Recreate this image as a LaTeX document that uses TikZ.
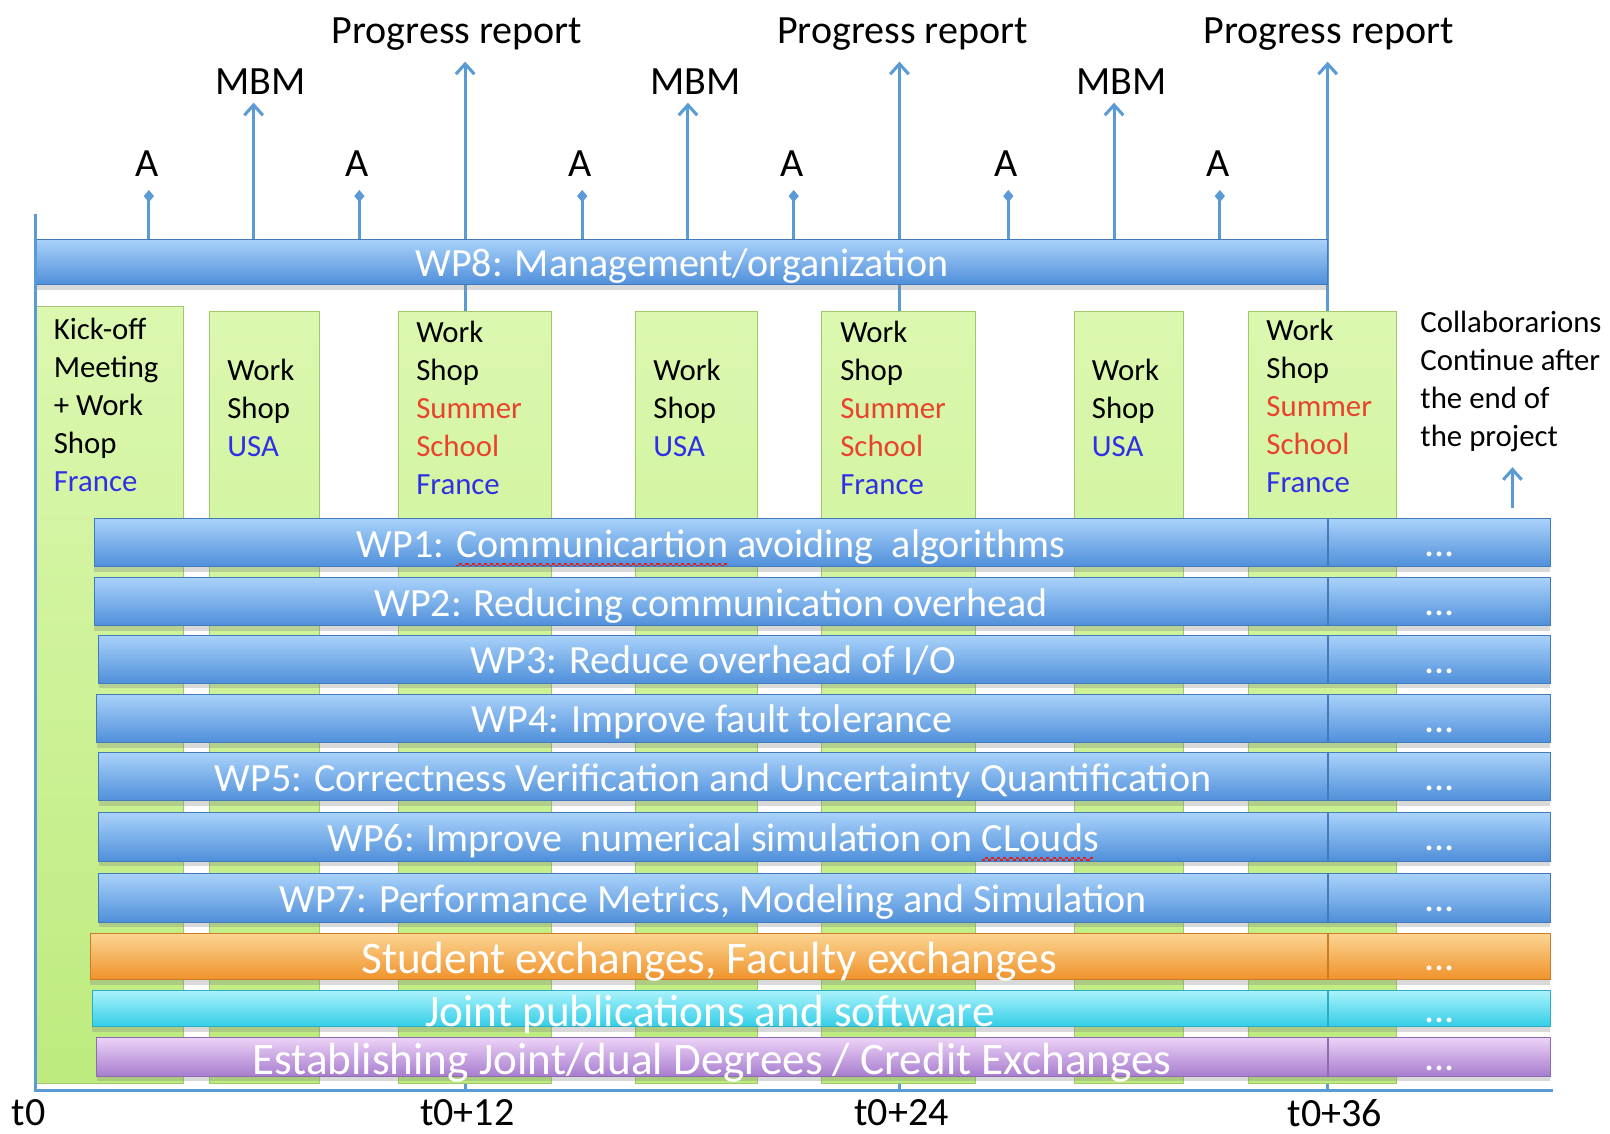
\documentclass[tikz,border=0pt]{standalone}
\usepackage{fontspec}
\setmainfont{Carlito}
\usetikzlibrary{positioning,arrows.meta,shadows}

\definecolor{tlblue}{HTML}{5B9BD5}
\definecolor{bluetop}{HTML}{A9D2FA}
\definecolor{bluebot}{HTML}{4F8FDA}
\definecolor{orangetop}{HTML}{FBD593}
\definecolor{orangebot}{HTML}{F0922A}
\definecolor{cyantop}{HTML}{A8F2FB}
\definecolor{cyanbot}{HTML}{33CDE6}
\definecolor{purpletop}{HTML}{EED3F8}
\definecolor{purplebot}{HTML}{A77DCE}
\definecolor{greentop}{HTML}{DCF8B0}
\definecolor{greenbot}{HTML}{BDEB7E}
\definecolor{txtred}{HTML}{E8432D}
\definecolor{txtblue}{HTML}{2F2FE6}
\definecolor{errred}{HTML}{E0201A}

% red wavy underline of the spell checker
\newcommand{\spellerr}[1]{\setbox0\hbox{#1}\rlap{\textcolor{errred}{\leaders\hbox to 3pt{\rule[-4.6pt]{1.5pt}{0.8pt}\rule[-3.8pt]{1.5pt}{0.8pt}}\hskip\wd0}}#1}

\tikzset{
  bar/.style={draw=#1bot!85!black, line width=0.4pt, top color=#1top, bottom color=#1bot,
    text=white, inner sep=0pt, minimum height=23.5pt, text height=14pt, text depth=-2pt,
    font=\fontsize{19.5}{23}\selectfont,
    drop shadow={opacity=0.3, shadow xshift=0pt, shadow yshift=-2.5pt}},
  bar/.default=blue,
  more/.style={bar=#1, minimum width=108pt, text height=13.5pt, text depth=0pt},
  more/.default=blue,
  bigbar/.style={bar=#1, text height=17pt, text depth=-3pt, font=\fontsize{22}{26}\selectfont},
  box/.style={draw=greenbot!85!black, line width=0.4pt, top color=greentop, bottom color=greenbot,
    anchor=north west, inner sep=0pt},
  boxtxt/.style={anchor=north west, inner sep=0pt, align=left, font=\fontsize{15}{18.5}\selectfont},
  toplbl/.style={inner sep=0pt, font=\fontsize{19.5}{23}\selectfont},
  tlline/.style={draw=tlblue, line width=1.5pt},
  atick/.style={tlline, -{Diamond[length=6pt,width=5pt]}},
  longarrow/.style={tlline, -{Straight Barb[length=5pt,width=9pt]}}
}

\begin{document}
\begin{tikzpicture}[x=0.5pt, y=-0.5pt]
\useasboundingbox (0,0) rectangle (1568,1104);

\coordinate (orig) at (35,1062);
\coordinate (axtop) at (35,208);
\coordinate (axend) at (1512,1062);

% progress report lines (every 12 months)
\foreach \x/\n in {453/1,876/2,1293/3} {
  \coordinate (prt\n) at (\x,60);
  \draw[longarrow] (prt\n |- orig) -- (prt\n);
}
\node[toplbl, anchor=south] (pr1) at (445,49) {Progress report};
\node[toplbl, anchor=south] (pr2) at (879,49) {Progress report};
\node[toplbl, anchor=south] (pr3) at (1294,49) {Progress report};

% meetings
\node[box, minimum width=71.5pt, minimum height=378.5pt] (ws0) at (35,298) {};
\node[box, minimum width=53.5pt, minimum height=376pt] (ws1) at (204,303) {};
\node[box, minimum width=74.5pt, minimum height=376pt] (ws2) at (388,303) {};
\node[box, minimum width=59.5pt, minimum height=376pt] (ws3) at (618,303) {};
\node[box, minimum width=75pt, minimum height=376pt] (ws4) at (800,303) {};
\node[box, minimum width=53pt, minimum height=376pt] (ws5) at (1046,303) {};
\node[box, minimum width=72.5pt, minimum height=376pt] (ws6) at (1215,303) {};

\node[boxtxt] (ws0t) at (52,309) {Kick-off\\Meeting\\+ Work\\Shop\\\textcolor{txtblue}{France}};
\node[boxtxt] (ws1t) at (221,349) {Work\\Shop\\\textcolor{txtblue}{USA}};
\node[boxtxt] (ws2t) at (405,312) {Work\\Shop\\\textcolor{txtred}{Summer}\\\textcolor{txtred}{School}\\\textcolor{txtblue}{France}};
\node[boxtxt] (ws3t) at (636,349) {Work\\Shop\\\textcolor{txtblue}{USA}};
\node[boxtxt] (ws4t) at (818,312) {Work\\Shop\\\textcolor{txtred}{Summer}\\\textcolor{txtred}{School}\\\textcolor{txtblue}{France}};
\node[boxtxt] (ws5t) at (1063,349) {Work\\Shop\\\textcolor{txtblue}{USA}};
\node[boxtxt] (ws6t) at (1233,310) {Work\\Shop\\\textcolor{txtred}{Summer}\\\textcolor{txtred}{School}\\\textcolor{txtblue}{France}};
\node[boxtxt] (collab) at (1383,303) {Collaborarions\\Continue after\\the end of\\the project};

% management bar and its milestones
\node[bar, minimum width=629pt, minimum height=22pt] (wp8) at (664,255) {WP8: Management/organization};
\foreach \x/\n in {145/1,350/2,567/3,773/4,982/5,1188/6} {
  \coordinate (at\n) at (\x,185);
  \draw[atick] (at\n |- wp8.north) -- (at\n);
  \node[toplbl, above=6.5pt of at\n, xshift=-1pt] (a\n) {A};
}
\foreach \x/\n in {247/1,670/2,1085/3} {
  \coordinate (mt\n) at (\x,100);
  \draw[longarrow] (mt\n |- wp8.north) -- (mt\n);
  \node[toplbl, above=4pt of mt\n, xshift=3.5pt] (mbm\n) {MBM};
}

% work packages
\foreach \n/\yc/\xs/\txt in {
  wp1/528.5/92/{WP1: \spellerr{Communicartion} avoiding\ \ algorithms},
  wp2/586/92/{WP2: Reducing communication overhead},
  wp3/642/96/{WP3: Reduce overhead of I/O},
  wp4/699.5/94/{WP4: Improve fault tolerance},
  wp5/756.5/96/{WP5: Correctness Verification and Uncertainty Quantification},
  wp6/815/96/{WP6: Improve\ \ numerical simulation on \spellerr{CLouds}},
  wp7/874.5/96/{WP7: Performance Metrics, Modeling and Simulation}} {
  \node[bar, minimum width={(1293-\xs)*0.5pt}] (\n) at ({(\xs+1293)/2},\yc) {\txt};
  \node[more, right=0pt of \n] (\n-more) {...};
}
\node[bigbar=orange, minimum width=602.5pt, minimum height=22.5pt] (stud) at (690.5,931.5) {Student exchanges, Faculty exchanges};
\node[more=orange, minimum height=22.5pt, right=0pt of stud] (stud-more) {...};
\node[bigbar=cyan, minimum width=601.5pt, minimum height=17.5pt] (pub) at (691.5,982.5) {Joint publications and software};
\node[more=cyan, minimum height=17.5pt, right=0pt of pub] (pub-more) {...};
\node[bigbar=purple, minimum width=599.5pt, minimum height=19pt] (deg) at (693.5,1029) {Establishing Joint/dual Degrees / Credit Exchanges};
\node[more=purple, minimum height=19pt, right=0pt of deg] (deg-more) {...};

% time axis
\draw[tlline] (axtop) -- (orig) -- (axend);
\node[toplbl] (lt0) at (28,1084) {t0};
\node[toplbl] (lt12) at (455,1084) {t0+12};
\node[toplbl] (lt24) at (878,1084) {t0+24};
\node[toplbl] (lt36) at (1300,1084) {t0+36};

\coordinate (ct) at (1473,455);
\draw[longarrow, shorten <=5pt] (ct |- wp1-more.north) -- (ct);
\end{tikzpicture}
\end{document}
